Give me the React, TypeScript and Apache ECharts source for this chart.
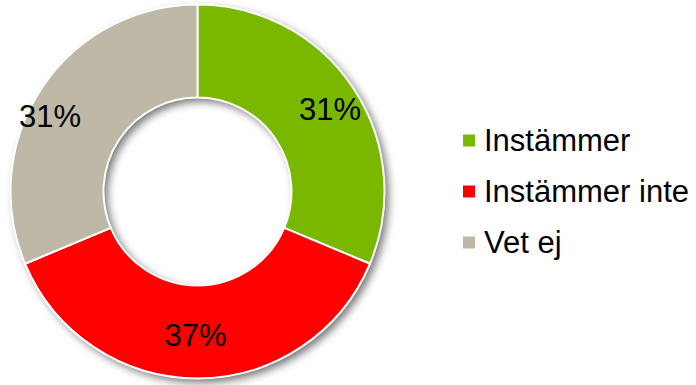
import React, { useEffect, useRef } from "react";
import * as echarts from "echarts";

const categories = ["Instämmer", "Instämmer inte", "Vet ej"];
const values = [31, 37, 31];
const colors = ["#7AB800", "#FF0000", "#BEB8A6"];
const labelOffsets: [number, number][] = [[13, -3], [-2, 0], [-28, 4]];

export default function App() {
  const ref = useRef<HTMLDivElement>(null);
  useEffect(() => {
    if (!ref.current) return;
    const chart = echarts.init(ref.current, undefined, { renderer: "svg" });
    const font = "'Liberation Sans', Arial, sans-serif";
    chart.setOption({
      animation: false,
      backgroundColor: "#ffffff",
      legend: {
        data: categories,
        orient: "vertical",
        left: 456,
        top: 120,
        icon: "rect",
        itemWidth: 14,
        itemHeight: 14,
        itemGap: 20,
        textStyle: {
          fontSize: 31,
          lineHeight: 31,
          color: "#000000",
          fontFamily: font,
          padding: [0, 0, 0, 3],
        },
      },
      series: [
        {
          type: "pie",
          name: "shadow",
          silent: true,
          center: [197.5, 191.5],
          radius: [94, 187],
          startAngle: 90,
          z: 1,
          label: { show: false },
          labelLine: { show: false },
          itemStyle: {
            color: "#ffffff",
            shadowBlur: 9,
            shadowOffsetX: 4,
            shadowOffsetY: 4,
            shadowColor: "rgba(0,0,0,0.55)",
          },
          data: [{ value: 1, name: "__bg" }],
        },
        {
          type: "pie",
          center: [197.5, 191.5],
          radius: [94, 187],
          startAngle: 90,
          clockwise: true,
          z: 2,
          itemStyle: { borderColor: "#ffffff", borderWidth: 2 },
          label: {
            show: true,
            position: "inside",
            formatter: "{c}%",
            fontSize: 31,
            color: "#000000",
            fontFamily: font,
          },
          labelLine: { show: false },
          data: categories.map((name, i) => ({
            name,
            value: values[i],
            itemStyle: { color: colors[i] },
            label: { offset: labelOffsets[i] },
          })),
        },
      ],
    });
    return () => chart.dispose();
  }, []);
  return (
    <div
      ref={ref}
      style={{ position: "fixed", left: 0, top: 0, width: 696, height: 385 }}
    />
  );
}
